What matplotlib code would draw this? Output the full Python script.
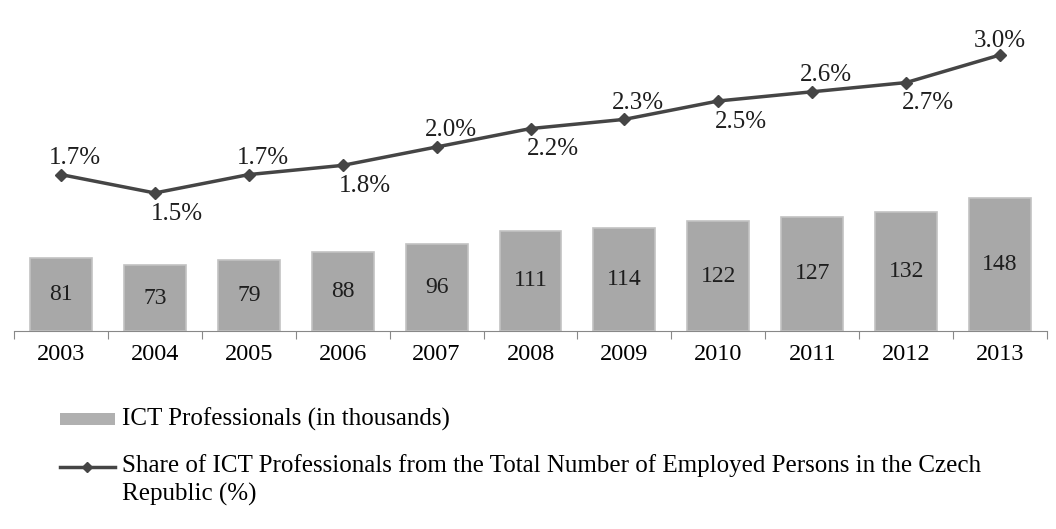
import matplotlib.pyplot as plt
from matplotlib.patches import Rectangle
from matplotlib.lines import Line2D

years = ['2003', '2004', '2005', '2006', '2007', '2008', '2009', '2010', '2011', '2012', '2013']
ict_professionals = [81, 73, 79, 88, 96, 111, 114, 122, 127, 132, 148]
ict_share = [1.7, 1.5, 1.7, 1.8, 2.0, 2.2, 2.3, 2.5, 2.6, 2.7, 3.0]

bar_label = 'ICT Professionals (in thousands)'
line_label = ('Share of ICT Professionals from the Total Number of Employed Persons in the Czech\n'
              'Republic (%)')

plt.rcParams['font.family'] = ['Liberation Serif', 'DejaVu Serif']

fig = plt.figure(figsize=(10.56, 5.29), dpi=100)
ax = fig.add_axes([14 / 1056, 198 / 529, 1033 / 1056, 311 / 529])
x = list(range(len(years)))

bar_color = '#a8a8a8'
line_color = '#454545'

# bars with value in the middle
ax.bar(x, ict_professionals, width=0.66, color=bar_color, edgecolor='#c2c2c2', linewidth=1.2)
for xi, v in zip(x, ict_professionals):
    ax.text(xi, v / 2, str(v), ha='center', va='center', fontsize=17, color='#1e1e1e')

ax.set_xlim(-0.5, len(years) - 0.5)
ax.set_ylim(0, 345)
ax.set_yticks([])
for s in ['top', 'left', 'right']:
    ax.spines[s].set_visible(False)
ax.spines['bottom'].set_color('#888888')

# boundary ticks, labels centered under each bar
ax.set_xticks([i - 0.5 for i in range(len(years) + 1)])
ax.set_xticklabels([])
ax.tick_params(axis='x', which='major', length=6, color='#888888', direction='out')
ax.set_xticks(x, minor=True)
ax.set_xticklabels(years, minor=True, fontsize=17.5)
ax.tick_params(axis='x', which='minor', length=0, pad=9)

# percentage line on its own scale
ax2 = ax.twinx()
ax2.plot(x, ict_share, color=line_color, linewidth=2.5, marker='D', markersize=6,
         markerfacecolor=line_color, markeredgecolor=line_color)
ax2.set_ylim(0, 3.38)
ax2.set_yticks([])
for s in ax2.spines.values():
    s.set_visible(False)

# labels alternate above and below the line
for i, (xi, v) in enumerate(zip(x, ict_share)):
    if i % 2 == 0:
        dx, dy = (0, 10) if i == len(x) - 1 else (10, 12)
    else:
        dx, dy = 16, -15
    ax2.annotate(f'{v:.1f}%', (xi, v), xytext=(dx, dy), textcoords='offset points',
                 ha='center', va='center', fontsize=18, color='#1e1e1e')

# legend drawn below the chart
fig.patches.append(Rectangle((60 / 1056, 1 - 425 / 529), 55 / 1056, 12 / 529,
                             transform=fig.transFigure, facecolor='#b0b0b0', edgecolor='none'))
fig.text(122 / 1056, 1 - 419 / 529, bar_label, fontsize=18, va='center', ha='left')
fig.lines.append(Line2D([60 / 1056, 115 / 1056], [1 - 467 / 529, 1 - 467 / 529],
                        transform=fig.transFigure, color=line_color, linewidth=2.5))
fig.lines.append(Line2D([87 / 1056], [1 - 467 / 529], transform=fig.transFigure,
                        marker='D', markersize=5, color=line_color))
fig.text(122 / 1056, 1 - 454 / 529, line_label, fontsize=18, va='top', ha='left', linespacing=1.35)

fig.savefig('out.png', dpi=100)
